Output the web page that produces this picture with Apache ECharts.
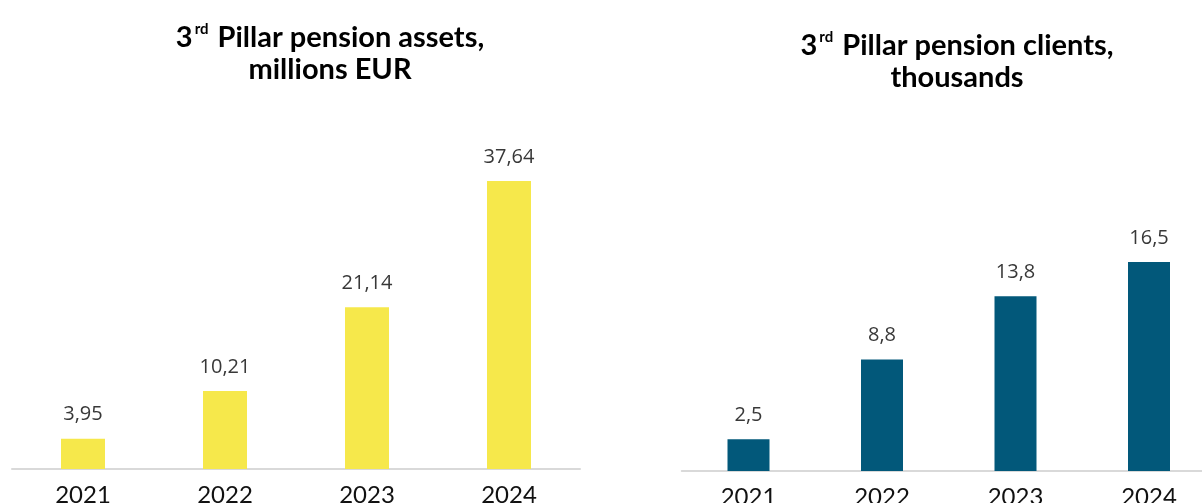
<!DOCTYPE html>
<html>
<head>
<meta charset="utf-8">
<script src="https://cdn.jsdelivr.net/npm/echarts@6/dist/echarts.min.js"></script>
<style>
  html, body { margin: 0; padding: 0; background: #fff; }
  #chart { width: 1202px; height: 503px; }
</style>
</head>
<body>
<div id="chart"></div>
<script>
// data
const years = ['2021', '2022', '2023', '2024']
const assets = [3.95, 10.21, 21.14, 37.64]
const clients = [2.5, 8.8, 13.8, 16.5]

const fmt = v => String(v).replace('.', ',')

const chart = echarts.init(document.getElementById('chart'))

const titleRich = {
  b: { fontFamily: 'Lato', fontWeight: 'bold', fontSize: 29, color: '#000', lineHeight: 32 },
  sup: { fontFamily: 'Lato', fontWeight: 'bold', fontSize: 15, color: '#000', lineHeight: 32, verticalAlign: 'top', padding: [0, 9, 17, 2] }
}

const xAxisBase = {
  type: 'category',
  data: years,
  axisTick: { show: false },
  axisLine: { lineStyle: { color: '#d9d9d9', width: 2 } },
  axisLabel: { color: '#111', fontFamily: 'Lato', fontSize: 24, margin: 14 }
}

const labelBase = {
  show: true,
  position: 'top',
  distance: 14,
  color: '#383838',
  fontFamily: 'Open Sans',
  fontSize: 20,
  formatter: p => fmt(p.value)
}

const option = {
  animation: false,
  title: [
    {
      text: '{b|3}{sup|rd}{b|Pillar pension assets,}\n{b|millions EUR}',
      left: 325,
      top: 17,
      textAlign: 'center',
      textStyle: { rich: titleRich }
    },
    {
      text: '{b|3}{sup|rd}{b|Pillar pension clients,}\n{b|thousands}',
      left: 952,
      top: 25,
      textAlign: 'center',
      textStyle: { rich: titleRich }
    }
  ],
  grid: [
    { left: 12, width: 568, top: 86.5, bottom: 34, outerBoundsMode: 'none' },
    { left: 681.75, width: 534, top: 91, bottom: 32, outerBoundsMode: 'none' }
  ],
  xAxis: [
    Object.assign({ gridIndex: 0 }, xAxisBase),
    Object.assign({ gridIndex: 1 }, xAxisBase)
  ],
  yAxis: [
    { gridIndex: 0, type: 'value', min: 0, max: 50, show: false, splitLine: { show: false } },
    { gridIndex: 1, type: 'value', min: 0, max: 30, show: false, splitLine: { show: false } }
  ],
  series: [
    {
      type: 'bar',
      xAxisIndex: 0,
      yAxisIndex: 0,
      data: assets,
      barWidth: 44,
      itemStyle: { color: '#f6e84b' },
      label: labelBase
    },
    {
      type: 'bar',
      xAxisIndex: 1,
      yAxisIndex: 1,
      data: clients,
      barWidth: 42,
      itemStyle: { color: '#02587a' },
      label: labelBase
    }
  ]
}

chart.setOption(option)
window.addEventListener('resize', () => chart.resize())
</script>
</body>
</html>
